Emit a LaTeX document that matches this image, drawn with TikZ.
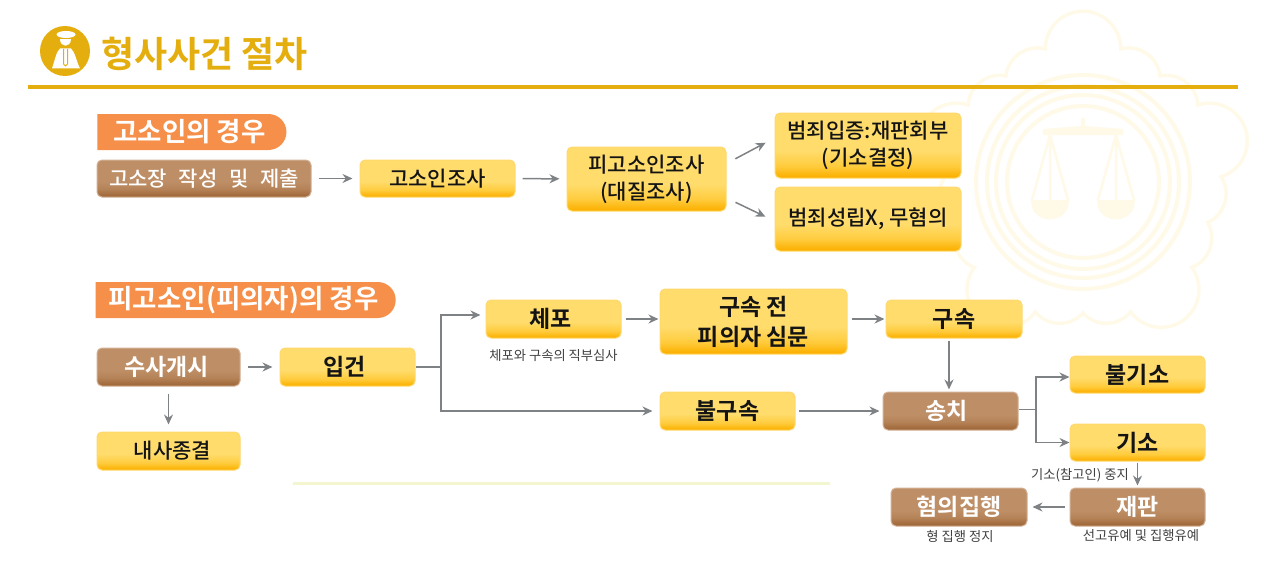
\documentclass[tikz,border=0pt]{standalone}
\usepackage{fontspec}
\setmainfont{Noto Sans CJK KR}[BoldFont={Noto Sans CJK KR Medium}]
\newfontfamily\heavyfont{Noto Sans CJK KR Bold}
\usetikzlibrary{arrows.meta,shapes.misc,positioning}
\definecolor{goldmain}{HTML}{E4AE0E}
\definecolor{pillorange}{HTML}{F58F49}
\definecolor{linegray}{HTML}{7F8285}
\definecolor{sealpale}{HTML}{FFF9E8}
\definecolor{barpale}{HTML}{F3F6CF}
\definecolor{yellowhi}{HTML}{FFDC6C}
\definecolor{yellowmid}{HTML}{FFCB3C}
\definecolor{yellowlow}{HTML}{FBB000}
\definecolor{brownhi}{HTML}{BE8E66}
\definecolor{brownmid}{HTML}{B58358}
\definecolor{brownlow}{HTML}{A1693A}
\pgfdeclareverticalshading{yellowbar}{100bp}{color(0bp)=(yellowlow); color(26bp)=(yellowlow); color(34bp)=(yellowmid); color(46bp)=(yellowhi); color(100bp)=(yellowhi)}
\pgfdeclareverticalshading{brownbar}{100bp}{color(0bp)=(brownlow); color(27bp)=(brownlow); color(36bp)=(brownmid); color(46bp)=(brownhi); color(100bp)=(brownhi)}
\tikzset{
    flowbox/.style 2 args = {minimum width=#1, minimum height=#2, inner sep=0pt, align=center,
                             rounded corners=5pt, line width=1pt},
    yellowbox/.style 2 args = {flowbox={#1}{#2}, shading=yellowbar, draw=yellowmid!75!white,
                               text=black!92, font=\fontsize{23}{30}\selectfont\heavyfont},
    brownbox/.style 2 args = {flowbox={#1}{#2}, shading=brownbar, draw=brownhi!70!white,
                              text=white, font=\fontsize{23}{30}\selectfont\heavyfont},
    casepill/.style 2 args = {rounded rectangle, rounded rectangle west arc=none, fill=pillorange,
                              minimum width=#1, minimum height=#2, inner sep=0pt, text=white,
                              font=\fontsize{26.5}{32}\selectfont\heavyfont},
    uppertext/.style = {font=\fontsize{21}{27}\selectfont\bfseries},
    smalllabel/.style = {inner sep=0pt, text=black!75, font=\fontsize{13.3}{15}\selectfont},
    flowline/.style = {draw=linegray, line width=1.5pt},
    flowarrow/.style = {flowline, shorten <=7pt, shorten >=7pt},
}
\begin{document}
\begin{tikzpicture}[x=1pt, y=-1pt,
        >={Stealth[length=10pt,width=9pt]},
                            ]
    \useasboundingbox (0,0) rectangle (1277,586);
    % seal in the background
    \begin{scope}[shift={(1083,182)}]
      \foreach \a in {270,198,126,54,342}
      {
        \draw[sealpale, line width=7pt] (\a:133) circle (36);
        \draw[sealpale, line width=7pt] (\a+24:112) circle (30);
        \draw[sealpale, line width=7pt] (\a-24:112) circle (30);
      }
      \foreach \a in {270,198,126,54,342}
      {
        \fill[white] (\a:133) circle (36);
        \fill[white] (\a+24:112) circle (30);
        \fill[white] (\a-24:112) circle (30);
      }
      \fill[white] (0,0) circle (120);
      \foreach \r in {107,96,87,76}
        \draw[sealpale, line width=4pt] (0,0) circle (\r);
      \fill[sealpale] (-40,-53) -- (-2,-56) -- (-2,-64) -- (2,-64) -- (2,-56) -- (40,-53) -- (40,-47) -- (-40,-47) -- cycle;
      \foreach \s in {-1,1}
      {
        \draw[sealpale, line width=2.5pt] (\s*33,-47) -- (\s*51,18) (\s*33,-47) -- (\s*15,18) (\s*33,-47) -- (\s*33,18);
        \fill[sealpale] (\s*33-19,18) .. controls (\s*33-19,44) and (\s*33+19,44) .. (\s*33+19,18) -- cycle;
      }
    \end{scope}
    % title
    \fill[goldmain] (65,51) circle (25);
    \fill[white] (66,34.5) ellipse (9.5 and 3.5);
    \fill[white] (60,39.5) -- (71,39.5) .. controls (71,48) and (60,48) .. (60,39.5) -- cycle;
    \fill[white] (60,48.5) .. controls (56,52) and (55,60) .. (52,68.5) -- (80,68.5) .. controls (76,60) and (75,52) .. (71,48.5) -- cycle;
    \draw[goldmain, line width=1pt] (63.5,49) -- (63.5,64) -- (65.5,66) -- (67.5,64) -- (67.5,49);
    \node[anchor=west, inner sep=0pt, text=goldmain, font=\fontsize{36}{40}\selectfont\heavyfont] (title) at (101,54) {형사사건 절차};
    \fill[goldmain] (28,85.2) rectangle (1238,88.8);
    \fill[barpale] (293,482) rectangle (830,485);
    % complaint
    \node[casepill={189pt}{36pt}] (casea) at (189.5,132) {고소인의 경우\hspace{12pt}};
    \node[brownbox={214pt}{37pt}, uppertext] (write) at (204,178.5) {고소장\hspace{7pt} 작성\hspace{7pt} 및\hspace{7pt} 제출};
    \node[yellowbox={155pt}{37pt}, uppertext] (plaintiff) at (437.5,178.5) {고소인조사};
    \node[yellowbox={159pt}{64pt}, uppertext] (accused) at (646.5,179) {피고소인조사\\(대질조사)};
    \node[yellowbox={186pt}{65pt}, uppertext] (proved) at (868,145.5) {범죄입증:재판회부\\(기소결정)};
    \node[yellowbox={186pt}{64pt}, uppertext] (noguilt) at (868,219) {범죄성립X, 무혐의};
    %
    \draw[flowarrow, ->] (write) -- (plaintiff);
    \draw[flowarrow, ->] (plaintiff) -- (accused);
    \draw[flowline, shorten <=10pt, shorten >=10pt, ->] ([yshift=15.5pt]accused.east) -- ([yshift=7.5pt]proved.west);
    \draw[flowline, shorten <=10pt, shorten >=10pt, ->] ([yshift=-19pt]accused.east) -- ([yshift=-2pt]noguilt.west);
    % suspect
    \node[casepill={300pt}{36pt}] (caseb) at (242.5,300) {\hspace{2pt}피고소인(피의자)의 경우};
    \node[brownbox={143pt}{38pt}] (inquiry) at (168.5,367) {수사개시\hspace{4pt}};
    \node[yellowbox={135pt}{38pt}] (booking) at (347.5,367) {입건\hspace{6pt}};
    \node[yellowbox={143pt}{38pt}, uppertext] (closing) at (168.5,451) {\hspace{8pt}내사종결};
    \node[yellowbox={135pt}{38pt}] (arrest) at (553.5,319) {체포\hspace{6pt}};
    \node[smalllabel] (review) at (553.5,356) {체포와 구속의 직부심사};
    \node[yellowbox={187pt}{65pt}] (hearing) at (753.5,321.5) {구속 전\\피의자 심문};
    \node[yellowbox={136pt}{38pt}] (detain) at (954,319) {구속};
    \node[yellowbox={135pt}{38pt}] (nodetain) at (727.5,411) {불구속};
    \node[brownbox={135pt}{38pt}] (transfer) at (950.5,411) {송치\hspace{8pt}};
    \node[yellowbox={135pt}{37pt}] (nocharge) at (1137.5,374.5) {불기소};
    \node[yellowbox={135pt}{37pt}] (charge) at (1137.5,442.5) {기소};
    \node[smalllabel] (suspend) at (1080,475) {기소(참고인) 중지};
    \node[brownbox={135pt}{38pt}] (trial) at (1137.5,507) {재판};
    \node[brownbox={136pt}{38pt}] (execute) at (959,507) {혐의집행};
    \node[smalllabel] (stay) at (960,536) {형 집행 정지};
    \node[smalllabel] (probation) at (1141,536) {선고유예 및 집행유예};
    %
    \draw[flowarrow, ->] (inquiry) -- (booking);
    \draw[flowarrow, ->] (inquiry) -- (closing);
    \coordinate (forka) at (441,367);
    \draw[flowline, shorten >=5pt, ->] (booking) -- (forka) |- ([yshift=4pt]arrest.west);
    \draw[flowline, shorten >=7pt, ->] (forka) |- (nodetain);
    \draw[flowline, shorten <=4pt, shorten >=1pt, ->] (arrest) -- (arrest -| hearing.west);
    \draw[flowline, shorten <=4pt, shorten >=1pt, ->] (hearing.east |- detain) -- (detain);
    \draw[flowline, shorten <=3pt, shorten >=3pt, ->] (nodetain) -- (transfer);
    \draw[flowline, shorten <=2pt, shorten >=2pt, ->] ([xshift=-5pt]detain.south) -- ([xshift=-1.5pt]transfer.north);
    \coordinate (forkb) at (1036,409.5);
    \draw[flowline] ([yshift=1.5pt]transfer.east) -- (forkb);
    \draw[flowline, ->] (forkb) |- ([yshift=-2.5pt]nocharge.west);
    \draw[flowline, ->] (forkb) |- (charge);
    \draw[flowline, shorten <=1pt, shorten >=2pt, ->] (charge) -- (trial);
    \draw[flowline, shorten <=5pt, shorten >=5pt, ->] (trial) -- (execute);
\end{tikzpicture}
\end{document}
